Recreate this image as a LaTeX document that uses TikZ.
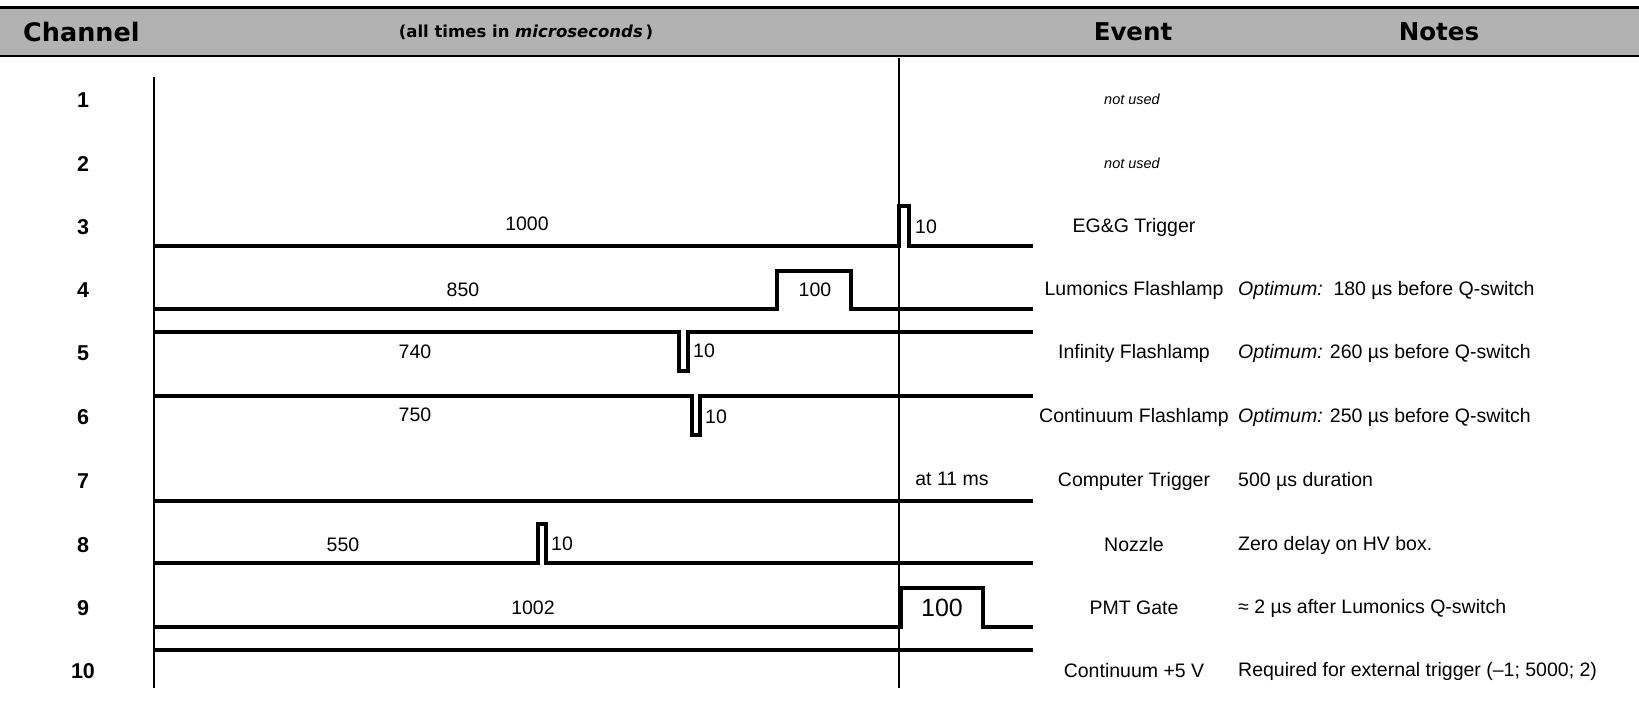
\documentclass[tikz,border=0pt]{standalone}
\usepackage{fontspec}
\setmainfont{Liberation Sans}
\newfontfamily\headfont{DejaVu Sans}
\usetikzlibrary{positioning}

\begin{document}
\begin{tikzpicture}[
            x=1pt, y=-1pt,
            head/.style={font=\headfont\bfseries\fontsize{24.5}{28}\selectfont, inner sep=0pt},
            subhead/.style={font=\headfont\bfseries\fontsize{16.5}{20}\selectfont, inner sep=0pt},
            chnum/.style={font=\bfseries\fontsize{21.5}{24}\selectfont, inner sep=0pt},
            event/.style={font=\fontsize{19.5}{22}\selectfont, inner sep=0pt},
            note/.style={event, anchor=west},
            unused/.style={font=\itshape\fontsize{14.5}{17}\selectfont, inner sep=0pt},
            val/.style={font=\fontsize{19.5}{22}\selectfont, inner sep=0pt},
            wave/.style={line width=4.2pt, line join=miter},
            marker/.style={line width=1.4pt}
        ]
        \useasboundingbox (0,0) rectangle (1639,709);

        % header band
        \fill[black!30] (0,9) rectangle (1639,55);
        \draw[line width=3pt] (0,7.5) -- (1639,7.5);
        \draw[line width=2pt] (0,56) -- (1639,56);

        \node[head, anchor=west, font=\headfont\bfseries\fontsize{25.5}{28}\selectfont] (chanhead) at (23,32) {Channel};
        \node[subhead] (units) at (526,32) {(all times in \textit{microseconds}\,)};
        \node[head] (evhead) at (1133,32) {Event};
        \node[head] (notehead) at (1439,32) {Notes};

        \foreach \n/\y in {1/100, 2/164, 3/227, 4/290, 5/353, 6/417, 7/481, 8/545, 9/608, 10/671}
            \node[chnum] (ch\n) at (83,\y) {\n};

        % time axis start and Q-switch reference
        \draw[line width=2pt] (154,77) -- (154,688);
        \draw[marker] (899,58) -- (899,688);

        % waveforms
        \draw[wave] (154,246) -- (899,246) -- (899,206) -- (909,206) -- (909,246) -- (1033,246);
        \draw[wave] (154,309) -- (777,309) -- (777,271) -- (851,271) -- (851,309) -- (1033,309);
        \draw[wave] (154,332) -- (679,332) -- (679,371) -- (688,371) -- (688,332) -- (1033,332);
        \draw[wave] (154,396) -- (692,396) -- (692,435) -- (700,435) -- (700,396) -- (1033,396);
        \draw[wave] (154,501) -- (1033,501);
        \draw[wave] (154,563) -- (538,563) -- (538,524) -- (546,524) -- (546,563) -- (1033,563);
        \draw[wave] (154,627) -- (901,627) -- (901,588) -- (983,588) -- (983,627) -- (1033,627);
        \draw[wave] (154,650) -- (1033,650);

        % delays and widths
        \node[val] (d3) at (527,224) {1000};
        \node[val, anchor=west] (w3) at (915,227) {10};
        \node[val] (d4) at (463,290) {850};
        \node[val] (w4) at (815,290) {100};
        \node[val] (d5) at (415,352) {740};
        \node[val, anchor=west] (w5) at (693,351) {10};
        \node[val] (d6) at (415,415) {750};
        \node[val, anchor=west] (w6) at (705,417) {10};
        \node[val] (d7) at (952,479) {at 11 ms};
        \node[val] (d8) at (343,545) {550};
        \node[val, anchor=west] (w8) at (551,544) {10};
        \node[val] (d9) at (533,608) {1002};
        \node[val, font=\fontsize{25}{28}\selectfont] (w9) at (942,608) {100};

        % events
        \node[unused] (ev1) at (1132,99) {not used};
        \node[unused] (ev2) at (1132,163) {not used};
        \node[event] (ev3) at (1134,227) {EG\&G Trigger};
        \node[event] (ev4) at (1134,290) {Lumonics Flashlamp};
        \node[event] (ev5) at (1134,353) {Infinity Flashlamp};
        \node[event] (ev6) at (1134,417) {Continuum Flashlamp};
        \node[event] (ev7) at (1134,481) {Computer Trigger};
        \node[event] (ev8) at (1134,545) {Nozzle};
        \node[event] (ev9) at (1134,608) {PMT Gate};
        \node[event] (ev10) at (1134,671) {Continuum +5 V};

        % notes
        \node[note] (nt4) at (1238,290) {\textit{Optimum:}\ \ 180 µs before Q-switch};
        \node[note] (nt5) at (1238,353) {\textit{Optimum:} 260 µs before Q-switch};
        \node[note] (nt6) at (1238,417) {\textit{Optimum:} 250 µs before Q-switch};
        \node[note] (nt7) at (1238,481) {500 µs duration};
        \node[note] (nt8) at (1238,545) {Zero delay on HV box.};
        \node[note] (nt9) at (1238,608) {≈ 2 µs after Lumonics Q-switch};
        \node[note] (nt10) at (1238,671) {Required for external trigger (–1; 5000; 2)};

    \end{tikzpicture}
\end{document}
